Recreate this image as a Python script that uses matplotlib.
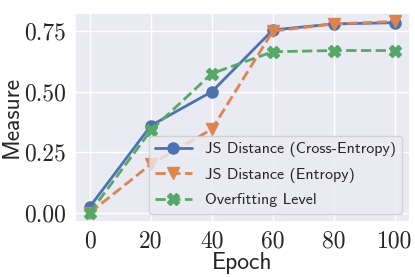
import matplotlib
matplotlib.use('Agg')
import matplotlib.pyplot as plt
import seaborn as sns

epochs = [0, 20, 40, 60, 80, 100]
js_ce = [0.025, 0.36, 0.50, 0.755, 0.78, 0.785]
js_ent = [0.0, 0.20, 0.345, 0.75, 0.78, 0.79]
overfit = [0.0, 0.34, 0.575, 0.665, 0.67, 0.67]

xticks = [0, 20, 40, 60, 80, 100]
yticks = [0.0, 0.25, 0.5, 0.75]

sns.set_theme(style='darkgrid')
plt.rcParams['axes.unicode_minus'] = False

fig, ax = plt.subplots(figsize=(4.15, 2.77), dpi=100)
ax.plot(epochs, js_ce, '-o', lw=2, ms=8, label='JS Distance (Cross-Entropy)')
ax.plot(epochs, js_ent, '--v', lw=2, ms=8, label='JS Distance (Entropy)')
ax.plot(epochs, overfit, '--X', lw=2, ms=8, label='Overfitting Level')

ax.set_xticks(xticks)
ax.set_xticklabels([str(t) for t in xticks], fontsize=17, family='cmr10')
ax.set_yticks(yticks)
ax.set_yticklabels([f'{t:.2f}' for t in yticks], fontsize=17, family='cmr10')
ax.set_ylim(-0.037, 0.825)
ax.set_xlabel('Epoch', fontsize=17, family='cmss10')
ax.set_ylabel('Measure', fontsize=17, family='cmss10')
ax.yaxis.set_label_coords(-0.154, 0.5)
ax.xaxis.set_label_coords(0.5, -0.145)
ax.tick_params(axis='x', pad=0)
ax.tick_params(axis='y', pad=0)
ax.legend(loc='lower right', prop={'family': 'cmss10', 'size': 11.5},
          handlelength=2.3, labelspacing=0.65)

fig.subplots_adjust(left=0.18, right=0.988, top=0.953, bottom=0.2)
fig.savefig('out.png')
